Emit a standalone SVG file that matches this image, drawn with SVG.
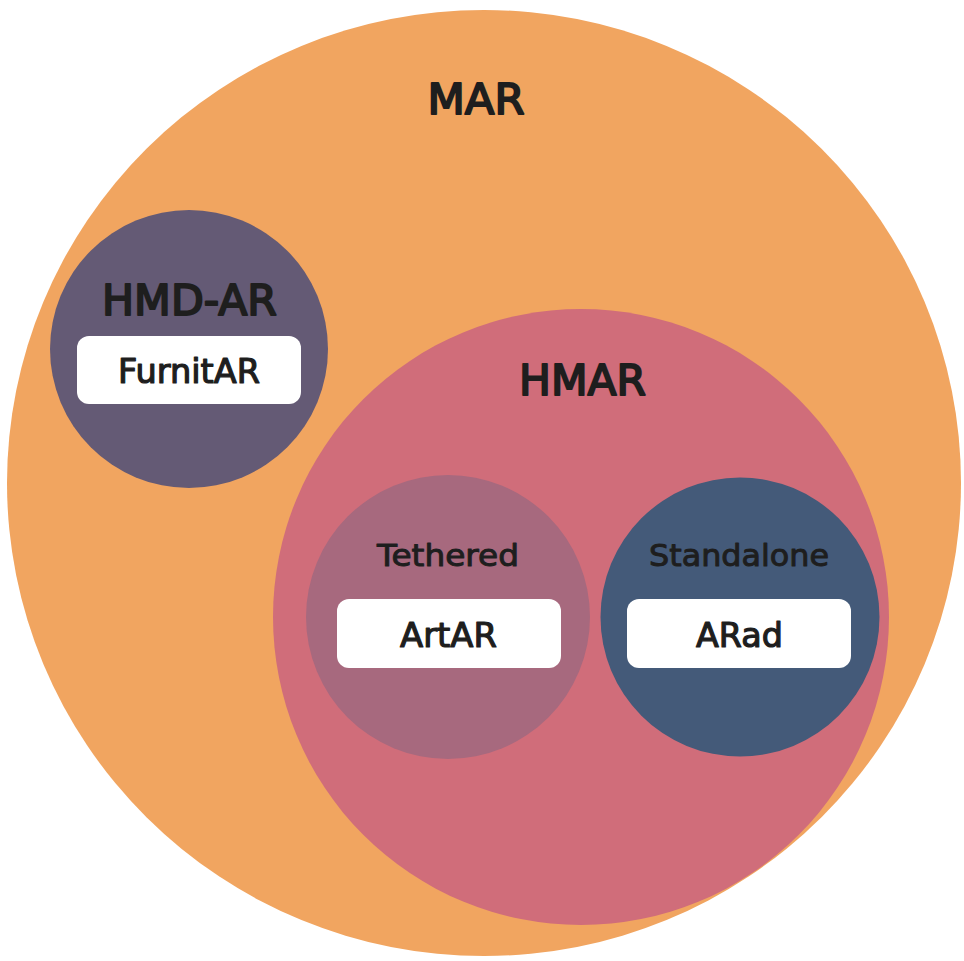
<svg xmlns="http://www.w3.org/2000/svg" width="964" height="961" viewBox="0 0 964 961">
<style>
text{font-family:"DejaVu Sans","Verdana",sans-serif;fill:#1e1e1e;stroke:#1e1e1e;text-anchor:middle;stroke-linejoin:round}
.big{font-size:42px;stroke-width:2}
.mid{font-size:31px;stroke-width:1}
.lbl{font-size:33px;stroke-width:1.2}
.box{fill:#ffffff}
</style>
<rect width="964" height="961" fill="#ffffff"/>
<g id="MAR">
<ellipse cx="484" cy="483" rx="477" ry="473" fill="#F1A560"/>
<text class="big" x="476" y="114" textLength="97" lengthAdjust="spacingAndGlyphs">MAR</text>
</g>
<g id="HMD-AR">
<circle cx="189" cy="349" r="139" fill="#645A75"/>
<text class="big" x="189.5" y="315" textLength="175" lengthAdjust="spacingAndGlyphs">HMD-AR</text>
<rect class="box" x="77" y="336" width="224" height="68" rx="12"/>
<text class="lbl" x="189" y="383" textLength="142" lengthAdjust="spacingAndGlyphs">FurnitAR</text>
</g>
<g id="HMAR">
<circle cx="581" cy="617" r="308" fill="#D06D7A"/>
<text class="big" x="582.5" y="395" textLength="127" lengthAdjust="spacingAndGlyphs">HMAR</text>
</g>
<g id="Tethered">
<circle cx="448" cy="617" r="142" fill="#A7697E"/>
<text class="mid" x="448" y="566" textLength="142" lengthAdjust="spacingAndGlyphs">Tethered</text>
<rect class="box" x="337" y="599" width="224" height="69" rx="12"/>
<text class="lbl" x="448.5" y="647" textLength="97" lengthAdjust="spacingAndGlyphs">ArtAR</text>
</g>
<g id="Standalone">
<circle cx="740" cy="617" r="139.5" fill="#445A79"/>
<text class="mid" x="739" y="566" textLength="180" lengthAdjust="spacingAndGlyphs">Standalone</text>
<rect class="box" x="627" y="599" width="224" height="69" rx="12"/>
<text class="lbl" x="739.5" y="647" textLength="87" lengthAdjust="spacingAndGlyphs">ARad</text>
</g>
<g id="connectors"></g>
</svg>
